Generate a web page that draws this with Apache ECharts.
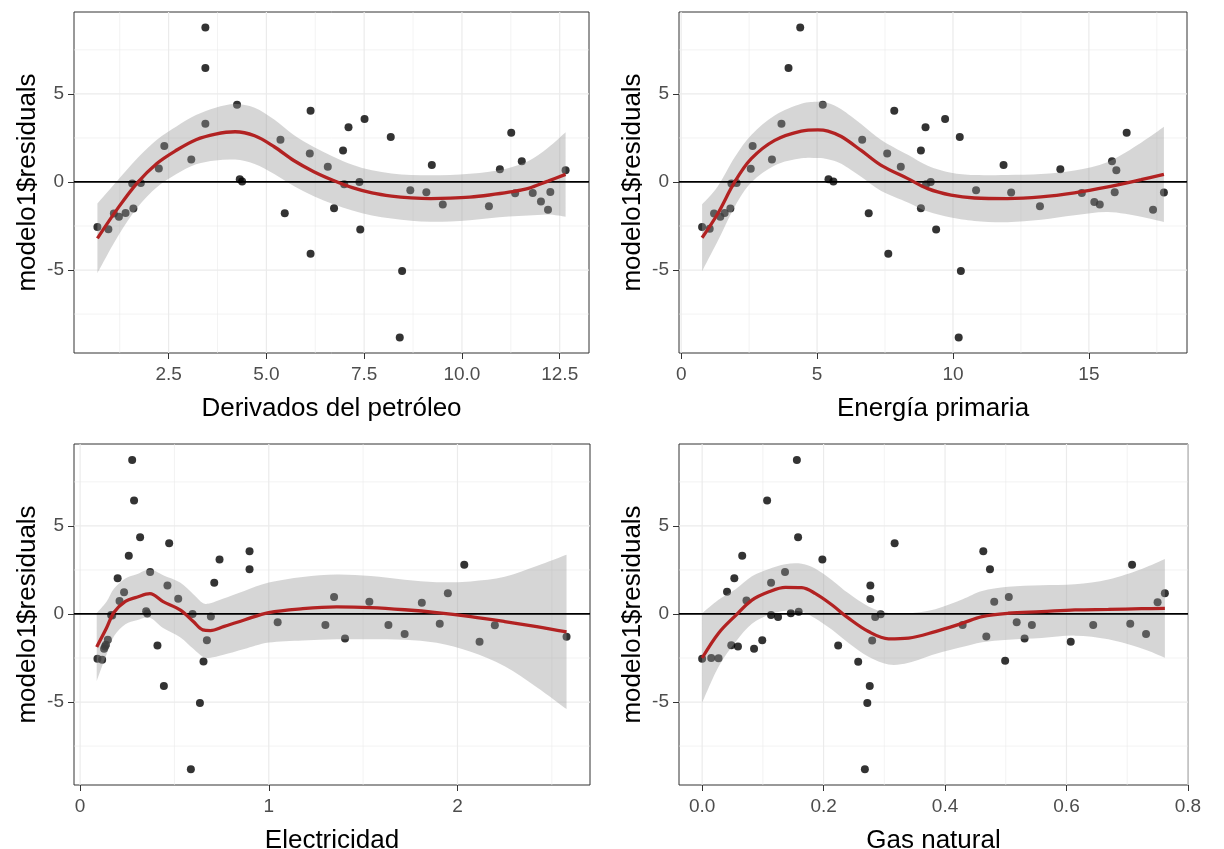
<!DOCTYPE html>
<html>
<head>
<meta charset="utf-8">
<script src="https://cdn.jsdelivr.net/npm/echarts@6/dist/echarts.min.js"></script>
<style>
  html, body { margin: 0; padding: 0; background: #ffffff; }
  #chart { width: 1224px; height: 849px; }
</style>
</head>
<body>
<div id="chart"></div>
<script>
// Residuals of modelo1 against each regressor: [x, residual]
const derivadosPts = [
  [0.68,-2.55],[0.96,-2.68],[1.10,-1.79],[1.23,-1.98],[1.40,-1.76],[1.57,-0.09],[1.60,-1.51],[1.79,-0.06],
  [2.25,0.76],[2.39,2.04],[3.08,1.27],[3.44,8.77],[3.44,6.47],[3.44,3.30],[4.25,4.38],[4.32,0.15],
  [4.38,0.02],[5.36,2.40],[5.47,-1.77],[6.11,1.62],[6.13,4.04],[6.13,-4.08],[6.57,0.87],[6.73,-1.49],
  [6.96,1.79],[6.99,-0.13],[7.10,3.11],[7.38,0.00],[7.40,-2.70],[7.51,3.57],[8.18,2.55],[8.41,-8.83],
  [8.47,-5.06],[8.68,-0.47],[9.09,-0.58],[9.23,0.96],[9.51,-1.28],[10.69,-1.38],[10.97,0.72],[11.26,2.79],
  [11.36,-0.64],[11.53,1.17],[11.81,-0.62],[12.02,-1.11],[12.20,-1.58],[12.26,-0.57],[12.65,0.66]
];
const energiaPts = [
  [0.77,-2.55],[1.05,-2.66],[1.21,-1.79],[1.44,-1.98],[1.60,-1.76],[1.81,-1.51],[1.85,-0.09],[2.04,-0.06],
  [2.56,0.75],[2.63,2.04],[3.34,1.28],[3.69,3.30],[3.95,6.47],[4.38,8.77],[5.21,4.38],[5.42,0.15],
  [5.60,0.02],[6.66,2.40],[6.90,-1.77],[7.58,1.62],[7.62,-4.08],[7.84,4.04],[8.08,0.87],[8.82,1.79],
  [8.82,-1.49],[8.99,3.11],[9.01,-0.13],[9.18,0.00],[9.38,-2.70],[9.71,3.57],[10.21,-8.83],[10.25,2.55],
  [10.29,-5.06],[10.85,-0.47],[11.86,0.96],[12.14,-0.60],[13.20,-1.38],[13.95,0.72],[14.74,-0.62],[15.20,-1.13],
  [15.40,-1.28],[15.85,1.17],[15.95,-0.58],[16.01,0.66],[16.39,2.79],[17.36,-1.58],[17.76,-0.60]
];
const electricidadPts = [
  [0.092,-2.54],[0.117,-2.60],[0.127,-1.97],[0.132,-1.85],[0.137,-1.75],[0.147,-1.47],[0.164,-0.06],[0.170,-0.09],
  [0.199,2.03],[0.209,0.73],[0.233,1.24],[0.258,3.30],[0.276,8.74],[0.286,6.44],[0.318,4.35],[0.350,0.15],
  [0.356,0.02],[0.371,2.39],[0.410,-1.79],[0.444,-4.09],[0.463,1.62],[0.472,4.01],[0.520,0.87],[0.587,-8.81],
  [0.596,0.00],[0.635,-5.05],[0.654,-2.70],[0.672,-1.49],[0.693,-0.15],[0.711,1.77],[0.739,3.09],[0.898,3.56],
  [0.898,2.54],[1.047,-0.47],[1.300,-0.62],[1.346,0.96],[1.404,-1.39],[1.533,0.70],[1.634,-0.62],[1.720,-1.13],
  [1.811,0.64],[1.906,-0.56],[1.949,1.17],[2.036,2.79],[2.117,-1.58],[2.198,-0.64],[2.578,-1.30]
];
const gasPts = [
  [0.000,-2.54],[0.015,-2.50],[0.027,-2.52],[0.041,1.26],[0.048,-1.77],[0.053,2.03],[0.059,-1.85],[0.066,3.30],
  [0.073,0.77],[0.0855,-1.98],[0.099,-1.49],[0.107,6.44],[0.1135,1.77],[0.1135,-0.06],[0.125,-0.17],[0.1365,2.39],
  [0.146,0.04],[0.156,8.74],[0.158,4.35],[0.159,0.13],[0.198,3.09],[0.224,-1.79],[0.257,-2.71],[0.268,-8.81],
  [0.272,-5.05],[0.276,-4.09],[0.277,1.62],[0.277,0.85],[0.280,-1.51],[0.285,-0.17],[0.294,-0.02],[0.317,4.01],
  [0.429,-0.62],[0.463,3.56],[0.468,-1.28],[0.474,2.54],[0.481,0.70],[0.499,-2.66],[0.505,0.96],[0.518,-0.47],
  [0.531,-1.39],[0.543,-0.62],[0.607,-1.58],[0.644,-0.62],[0.705,-0.56],[0.708,2.79],[0.731,-1.13],[0.750,0.66],
  [0.762,1.17]
];

// Loess smooth: evaluation points, fitted value and 95% half-width of the band
const derivadosCurveX = [0.68,1.2,1.7,2.2,2.7,3.2,3.7,4.2,4.7,5.2,5.7,6.2,6.7,7.2,7.7,8.2,8.7,9.2,9.7,10.2,10.7,11.2,11.7,12.2,12.65];
const derivadosFit    = [-3.2,-1.5,-0.05,1.05,1.8,2.4,2.72,2.85,2.62,2.0,1.22,0.6,0.1,-0.32,-0.62,-0.8,-0.9,-0.94,-0.92,-0.86,-0.74,-0.58,-0.36,0.05,0.43];
const derivadosHalf   = [1.98,1.6,1.4,1.35,1.35,1.4,1.5,1.58,1.6,1.55,1.45,1.4,1.35,1.3,1.28,1.28,1.3,1.32,1.32,1.32,1.32,1.38,1.55,1.9,2.4];

const energiaCurveX = [0.77,1.35,1.97,2.58,3.44,4.42,5.03,5.40,5.89,6.62,7.36,8.34,9.07,9.93,10.79,12.0,13.24,14.47,15.7,16.92,17.76];
const energiaFit    = [-3.17,-1.79,0.0,1.32,2.36,2.89,2.96,2.89,2.58,1.79,0.94,0.19,-0.38,-0.75,-0.91,-0.94,-0.85,-0.62,-0.28,0.13,0.43];
const energiaHalf   = [1.9,1.55,1.4,1.35,1.42,1.55,1.6,1.6,1.55,1.5,1.45,1.35,1.3,1.27,1.3,1.34,1.3,1.27,1.42,2.1,2.7];

const electricidadCurveX = [0.088,0.14,0.18,0.24,0.30,0.37,0.44,0.53,0.60,0.65,0.69,0.76,0.87,1.0,1.18,1.36,1.54,1.72,1.89,2.07,2.25,2.42,2.578];
const electricidadFit    = [-1.87,-0.8,0.1,0.72,0.95,1.15,0.7,0.23,-0.43,-0.9,-0.94,-0.72,-0.34,0.08,0.3,0.4,0.36,0.24,0.08,-0.15,-0.43,-0.72,-1.02];
const electricidadHalf   = [1.93,1.5,1.35,1.3,1.3,1.37,1.5,1.55,1.55,1.53,1.55,1.6,1.65,1.7,1.8,1.84,1.79,1.7,1.72,2.0,2.54,3.44,4.38];

const gasCurveX = [0.0,0.027,0.055,0.082,0.11,0.137,0.164,0.186,0.214,0.241,0.274,0.307,0.34,0.384,0.428,0.461,0.504,0.559,0.614,0.669,0.724,0.762];
const gasFit    = [-2.5,-1.09,-0.09,0.79,1.26,1.51,1.49,1.17,0.51,-0.24,-1.0,-1.41,-1.37,-1.0,-0.53,-0.15,0.04,0.13,0.23,0.26,0.3,0.32];
const gasHalf   = [2.54,1.9,1.5,1.35,1.3,1.32,1.36,1.41,1.41,1.41,1.43,1.46,1.4,1.27,1.35,1.45,1.5,1.5,1.46,1.7,2.26,2.8];

// Axis breaks (major) and the minor breaks between them
const derivadosTicks = [2.5, 5.0, 7.5, 10.0, 12.5];
const derivadosMinor = [1.25, 3.75, 6.25, 8.75, 11.25];
const energiaTicks = [0, 5, 10, 15];
const energiaMinor = [2.5, 7.5, 12.5, 17.5];
const electricidadTicks = [0, 1, 2];
const electricidadMinor = [0.5, 1.5, 2.5];
const gasTicks = [0.0, 0.2, 0.4, 0.6, 0.8];
const gasMinor = [0.1, 0.3, 0.5, 0.7];
const residualTicks = [-5, 0, 5];
const residualMinor = [-7.5, -2.5, 2.5, 7.5];
const hlineY = [0];

const yTitle = 'modelo1$residuals';
const FONT = '"Liberation Sans", Arial, sans-serif';

const panels = [
  { title: 'Derivados del petróleo', pts: derivadosPts, cx: derivadosCurveX, fit: derivadosFit, half: derivadosHalf,
    ticks: derivadosTicks, minor: derivadosMinor, digits: 1, box: { left: 74, top: 12, width: 515, height: 341 } },
  { title: 'Energía primaria', pts: energiaPts, cx: energiaCurveX, fit: energiaFit, half: energiaHalf,
    ticks: energiaTicks, minor: energiaMinor, digits: 0, box: { left: 679, top: 12, width: 508, height: 341 } },
  { title: 'Electricidad', pts: electricidadPts, cx: electricidadCurveX, fit: electricidadFit, half: electricidadHalf,
    ticks: electricidadTicks, minor: electricidadMinor, digits: 0, box: { left: 74, top: 444, width: 516, height: 341 } },
  { title: 'Gas natural', pts: gasPts, cx: gasCurveX, fit: gasFit, half: gasHalf,
    ticks: gasTicks, minor: gasMinor, digits: 1, box: { left: 679, top: 444, width: 509, height: 341 } }
];

// ggplot-style limits: data range expanded by 5% on each side
function expand(vals) {
  const lo = Math.min(...vals), hi = Math.max(...vals), pad = (hi - lo) * 0.05;
  return [lo - pad, hi + pad];
}
const allRes = panels.flatMap(p => p.pts.map(d => d[1]));
const yLim = expand(allRes);

// Cubic (Catmull-Rom) path segments through pixel points, appended after the current point
function splineSegments(pts) {
  let d = '';
  for (let k = 0; k < pts.length - 1; k++) {
    const p0 = pts[Math.max(k - 1, 0)], p1 = pts[k], p2 = pts[k + 1], p3 = pts[Math.min(k + 2, pts.length - 1)];
    const c1x = p1[0] + (p2[0] - p0[0]) / 6, c1y = p1[1] + (p2[1] - p0[1]) / 6;
    const c2x = p2[0] - (p3[0] - p1[0]) / 6, c2y = p2[1] - (p3[1] - p1[1]) / 6;
    d += ' C' + c1x + ',' + c1y + ' ' + c2x + ',' + c2y + ' ' + p2[0] + ',' + p2[1];
  }
  return d;
}

const grids = [], xAxes = [], yAxes = [], series = [];

panels.forEach((p, i) => {
  const xLim = expand(p.pts.map(d => d[0]));
  grids.push(Object.assign({
    show: true, borderColor: '#333333', borderWidth: 1, backgroundColor: '#ffffff',
    containLabel: false, outerBoundsMode: 'none'
  }, p.box));

  xAxes.push({
    gridIndex: i, type: 'value', min: xLim[0], max: xLim[1],
    axisLine: { show: false, onZero: false },
    splitLine: { show: false },
    axisTick: { show: true, customValues: p.ticks, length: 6, lineStyle: { color: '#333333', width: 1 } },
    axisLabel: { customValues: p.ticks, formatter: v => Number(v).toFixed(p.digits),
                 color: '#4D4D4D', fontSize: 19, fontFamily: FONT, margin: 12 },
    name: p.title, nameLocation: 'middle', nameGap: 43,
    nameTextStyle: { color: '#000000', fontSize: 26, fontFamily: FONT }
  });
  yAxes.push({
    gridIndex: i, type: 'value', min: yLim[0], max: yLim[1],
    axisLine: { show: false, onZero: false },
    splitLine: { show: false },
    axisTick: { show: true, customValues: residualTicks, length: 6, lineStyle: { color: '#333333', width: 1 } },
    axisLabel: { customValues: residualTicks, formatter: v => String(v),
                 color: '#4D4D4D', fontSize: 19, fontFamily: FONT, margin: 10 },
    name: yTitle, nameLocation: 'middle', nameGap: 33,
    nameTextStyle: { color: '#000000', fontSize: 26, fontFamily: FONT }
  });

  // panel grid lines (vertical and horizontal, major and minor)
  const vLines = p.ticks.map(v => [v, 1]).concat(p.minor.map(v => [v, 0]))
    .filter(d => d[0] >= xLim[0] && d[0] <= xLim[1]);
  const hLines = residualTicks.map(v => [v, 1]).concat(residualMinor.map(v => [v, 0]));
  series.push({
    type: 'custom', xAxisIndex: i, yAxisIndex: i, silent: true, z: 1,
    data: vLines,
    renderItem: (params, api) => {
      const cs = params.coordSys;
      const x = api.coord([api.value(0), 0])[0];
      return { type: 'line', shape: { x1: x, y1: cs.y, x2: x, y2: cs.y + cs.height },
               style: { stroke: '#EBEBEB', lineWidth: api.value(1) ? 1.2 : 0.6 } };
    }
  });
  series.push({
    type: 'custom', xAxisIndex: i, yAxisIndex: i, silent: true, z: 1,
    data: hLines.map(d => [xLim[0], d[0], d[1]]),
    renderItem: (params, api) => {
      const cs = params.coordSys;
      const y = api.coord([api.value(0), api.value(1)])[1];
      return { type: 'line', shape: { x1: cs.x, y1: y, x2: cs.x + cs.width, y2: y },
               style: { stroke: '#EBEBEB', lineWidth: api.value(2) ? 1.2 : 0.6 } };
    }
  });

  // residual points
  series.push({
    type: 'scatter', xAxisIndex: i, yAxisIndex: i, z: 2, silent: true,
    data: p.pts, symbol: 'circle', symbolSize: 8,
    itemStyle: { color: '#000000' }
  });

  // confidence band around the fit, one closed shape per panel
  const bandData = p.cx.map((x, k) => [x, p.fit[k] - p.half[k], p.fit[k] + p.half[k]]);
  series.push({
    type: 'custom', xAxisIndex: i, yAxisIndex: i, silent: true, z: 3,
    data: bandData,
    renderItem: (params, api) => {
      if (params.dataIndex !== 0) return null;
      const upper = bandData.map(d => api.coord([d[0], d[2]]));
      const lower = bandData.map(d => api.coord([d[0], d[1]])).reverse();
      const d = 'M' + upper[0][0] + ',' + upper[0][1] + splineSegments(upper) +
                ' L' + lower[0][0] + ',' + lower[0][1] + splineSegments(lower) + ' Z';
      return { type: 'path', shape: { pathData: d }, style: { fill: 'rgba(153,153,153,0.4)', stroke: null } };
    }
  });

  // horizontal reference line at zero
  series.push({
    type: 'custom', xAxisIndex: i, yAxisIndex: i, silent: true, z: 4,
    data: hlineY.map(v => [xLim[0], v]),
    renderItem: (params, api) => {
      const cs = params.coordSys;
      const y = api.coord([api.value(0), api.value(1)])[1];
      return { type: 'line', shape: { x1: cs.x, y1: y, x2: cs.x + cs.width, y2: y },
               style: { stroke: '#000000', lineWidth: 1.7 } };
    }
  });

  // loess fit
  series.push({
    type: 'line', xAxisIndex: i, yAxisIndex: i, z: 5, silent: true,
    data: p.cx.map((x, k) => [x, p.fit[k]]),
    symbol: 'none', smooth: 0.35,
    lineStyle: { color: '#B22222', width: 3.3 }
  });
});

const chart = echarts.init(document.getElementById('chart'), null, { renderer: 'canvas' });
chart.setOption({
  animation: false,
  backgroundColor: '#ffffff',
  grid: grids,
  xAxis: xAxes,
  yAxis: yAxes,
  series: series
});
</script>
</body>
</html>
